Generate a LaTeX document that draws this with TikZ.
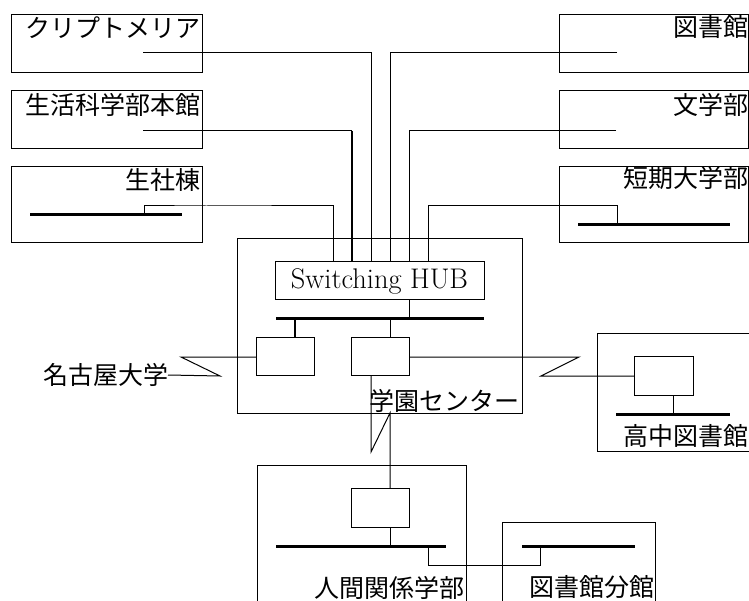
\documentclass[tikz,border=0pt]{standalone}
\usepackage{fontspec}
\newfontfamily\jp{Noto Sans CJK JP}
\begin{document}
\begin{tikzpicture}[x=1pt,y=-1pt,
  box/.style={draw, line width=1pt, inner sep=0pt, outer sep=0pt, anchor=north west},
  wire/.style={line width=1pt},
  thickwire/.style={line width=2pt},
  bus/.style={line width=3pt},
  jlbl/.style={inner sep=0pt, outer sep=0pt, font=\jp\fontsize{25}{30}\selectfont},
]
\useasboundingbox (0,0) rectangle (749,601);

% ---- buildings on the left
\node[box, minimum width=191pt, minimum height=58pt] (crypt) at (11,15) {};
\node[box, minimum width=191pt, minimum height=58pt] (seikatsu) at (11,91) {};
\node[box, minimum width=191pt, minimum height=76pt] (seisha) at (11,167) {};
\node[jlbl, anchor=east] (cryptL) at (200,27.5) {クリプトメリア};
\node[jlbl, anchor=east] (seikatsuL) at (200.5,105) {生活科学部本館};
\node[jlbl, anchor=east] (seishaL) at (200.5,180) {生社棟};

% ---- buildings on the right
\node[box, minimum width=189pt, minimum height=58pt] (tosho) at (559,15) {};
\node[box, minimum width=189pt, minimum height=58pt] (bungaku) at (559,91) {};
\node[box, minimum width=189pt, minimum height=76pt] (tanki) at (559,167) {};
\node[jlbl, anchor=east] (toshoL) at (748.5,27.5) {図書館};
\node[jlbl, anchor=east] (bungakuL) at (748.5,105) {文学部};
\node[jlbl, anchor=east] (tankiL) at (748.5,178) {短期大学部};

% ---- centre
\node[box, minimum width=285pt, minimum height=174pt] (center) at (237,239) {};
\node[box, minimum width=209pt, minimum height=38pt] (hub) at (275,262) {};
\node[inner sep=0pt, font=\fontsize{28.4}{34}\selectfont] (hubL) at (379.5,281) {Switching HUB};
\node[box, minimum width=58pt, minimum height=38pt] (routerL) at (256,337) {};
\node[box, minimum width=58pt, minimum height=38pt] (routerR) at (351,337) {};
\node[jlbl, anchor=east] (centerL) at (519.5,401) {学園センター};

% ---- 高中図書館
\node[box, minimum width=160pt, minimum height=118pt] (kochu) at (597,333) {};
\node[box, minimum width=59pt, minimum height=39pt] (kochuR) at (634,356) {};
\node[jlbl, anchor=east] (kochuL) at (748.5,436) {高中図書館};

% ---- 人間関係学部 and 図書館分館
\node[box, minimum width=209pt, minimum height=150pt] (ningen) at (257,465) {};
\node[box, minimum width=58pt, minimum height=39pt] (ningenR) at (351,488) {};
\node[box, minimum width=153pt, minimum height=100pt] (bunkan) at (502,522) {};
\node[jlbl, anchor=east] (ningenL) at (464,587.5) {人間関係学部};
\node[jlbl, anchor=east] (bunkanL) at (654,587.5) {図書館分館};

% ---- 名古屋大学
\node[jlbl, anchor=east] (nagoya) at (168,375) {名古屋大学};

% ---- coordinates
\coordinate (cryptP) at (143,53);
\coordinate (seikatsuP) at (143,131);
\coordinate (seikatsuK) at (352,131);
\coordinate (toshoP) at (617,53);
\coordinate (bungakuP) at (616,131);
\coordinate (seishaBusL) at (30,215);
\coordinate (seishaBusR) at (182,215);
\coordinate (seishaT) at (144,215);
\coordinate (tankiBusL) at (578,225);
\coordinate (tankiBusR) at (730,225);
\coordinate (tankiT) at (617,225);
\coordinate (hubA) at (333,262);
\coordinate (hubB) at (352,262);
\coordinate (hubC) at (371,262);
\coordinate (hubD) at (390,262);
\coordinate (hubE) at (409,262);
\coordinate (hubF) at (428,262);
\coordinate (hubS) at (409,300);
\coordinate (cBusL) at (276,319);
\coordinate (cBusR) at (484,319);
\coordinate (cBusH) at (409,319);
\coordinate (cBusA) at (295,319);
\coordinate (cBusB) at (390,319);
\coordinate (rLtop) at (295,337);
\coordinate (rRtop) at (390,337);
\coordinate (rLwest) at (256,357);
\coordinate (zl1) at (181,357);
\coordinate (zl2) at (220,376);
\coordinate (rReast) at (409,357);
\coordinate (zr1) at (579,357);
\coordinate (zr2) at (541,376);
\coordinate (kochuRwest) at (634,376);
\coordinate (kBusL) at (616,414);
\coordinate (kBusR) at (730,414);
\coordinate (kBusT) at (673,414);
\coordinate (kRsouth) at (673,395);
\coordinate (rRbot) at (371,375);
\coordinate (zd1) at (371,452);
\coordinate (zd2) at (390,413);
\coordinate (nRtop) at (390,488);
\coordinate (nRbot) at (390,527);
\coordinate (nBusL) at (276,546);
\coordinate (nBusR) at (446,546);
\coordinate (nBusT) at (390,546);
\coordinate (nBusX) at (428,546);
\coordinate (bBusL) at (522,546);
\coordinate (bBusR) at (635,546);
\coordinate (bBusX) at (540,546);
\coordinate (linkY) at (0,565);

% ---- buses
\draw[bus] (seishaBusL) -- (seishaBusR);
\draw[bus] (tankiBusL) -- (tankiBusR);
\draw[bus] (cBusL) -- (cBusR);
\draw[bus] (kBusL) -- (kBusR);
\draw[bus] (nBusL) -- (nBusR);
\draw[bus] (bBusL) -- (bBusR);

% ---- links to the hub
\draw[wire] (cryptP) -| (hubC);
\draw[wire] (seikatsuP) -- (seikatsuK);
\draw[thickwire] (seikatsuK) -- (hubB);
\draw[wire] (seishaT) |- (206,206) -| (hubA);
\draw[wire] (toshoP) -| (hubD);
\draw[wire] (bungakuP) -| (hubE);
\draw[wire] (tankiT) |- (617,206) -| (hubF);

% ---- inside the centre
\draw[wire] (hubS) -- (cBusH);
\draw[thickwire] (cBusA) -- (rLtop);
\draw[wire] (cBusB) -- (rRtop);

% ---- outside links
\draw[wire] (rLwest) -- (zl1) -- (zl2) -- (nagoya.east);
\draw[wire] (rReast) -- (zr1) -- (zr2) -- (kochuRwest);
\draw[wire] (kRsouth) -- (kBusT);
\draw[wire] (rRbot) -- (zd1) -- (zd2) -- (nRtop);
\draw[wire] (nRbot) -- (nBusT);
\draw[wire] (nBusX) |- (linkY -| bBusX) -- (bBusX);
\end{tikzpicture}
\end{document}
